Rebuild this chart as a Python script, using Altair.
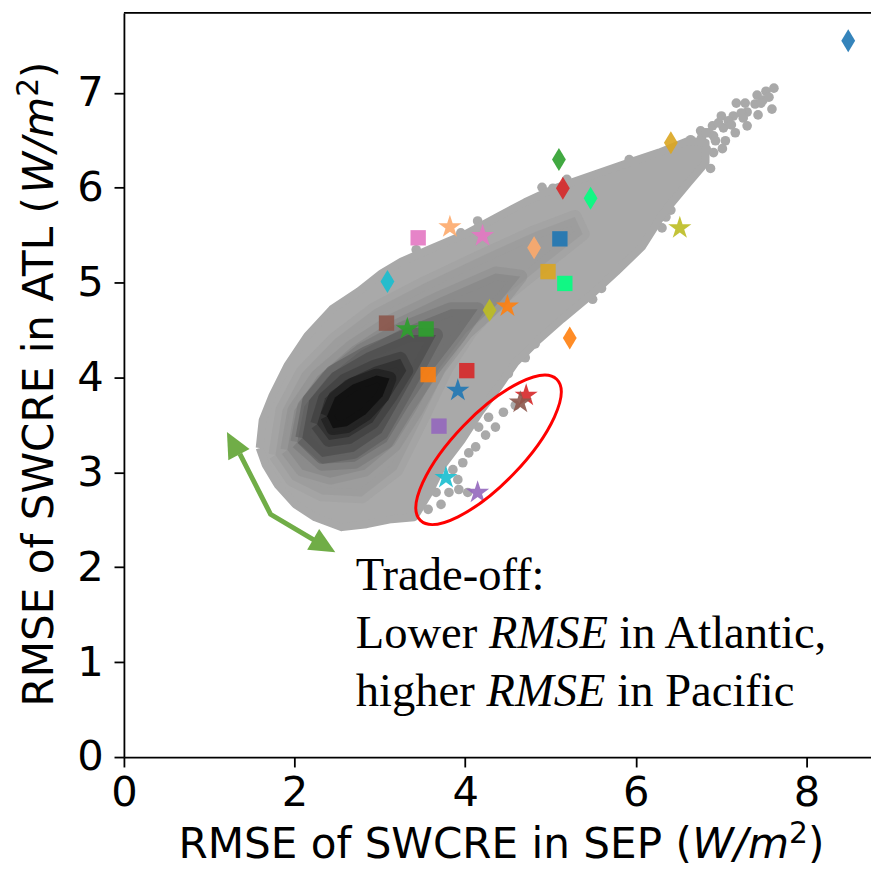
import altair as alt
import pandas as pd

# ---------------- data ----------------
X_TICKS = [0, 2, 4, 6, 8]
Y_TICKS = [0, 1, 2, 3, 4, 5, 6, 7]
X_DOMAIN = [0, 8.757]
Y_DOMAIN = [0, 7.843]

# density cloud: nested contour polygons (outer -> core), data units
L1_X = [1.591, 1.626, 1.742, 1.916, 2.149, 2.439, 2.753, 3.020, 3.252, 3.600, 4.007, 4.355, 4.704, 5.052,
        5.517, 5.923, 6.272, 6.620, 6.818, 6.818, 6.620, 6.330, 6.074, 5.772, 5.482, 5.134, 4.843, 4.588,
        4.379, 4.170, 3.960, 3.740, 3.566, 3.403, 3.136, 2.846, 2.555, 2.242, 2.009, 1.800, 1.661]
L1_Y = [3.258, 3.551, 3.812, 4.125, 4.439, 4.721, 4.909, 5.097, 5.222, 5.358, 5.514, 5.681, 5.849, 5.995,
        6.141, 6.266, 6.371, 6.496, 6.475, 6.266, 6.057, 5.744, 5.379, 5.117, 4.877, 4.616, 4.386, 4.157,
        3.885, 3.634, 3.342, 3.081, 2.768, 2.527, 2.507, 2.454, 2.423, 2.527, 2.663, 2.872, 3.081]
L2_X = [1.777, 1.858, 2.091, 2.474, 2.938, 3.519, 4.181, 4.820, 5.285, 5.377, 4.936, 4.413, 4.065, 3.775,
        3.484, 3.194, 2.787, 2.323, 1.974]
L2_Y = [3.185, 3.655, 4.052, 4.407, 4.721, 4.992, 5.274, 5.535, 5.692, 5.514, 5.201, 4.825, 4.491, 4.094,
        3.551, 3.029, 2.747, 2.768, 2.924]
L3_X = [1.916, 1.998, 2.265, 2.671, 3.136, 3.717, 4.355, 4.646, 4.413, 4.007, 3.693, 3.426, 3.171, 2.822,
        2.416, 2.091]
L3_Y = [3.238, 3.655, 4.010, 4.324, 4.595, 4.846, 5.097, 5.065, 4.804, 4.470, 4.094, 3.655, 3.290, 3.029,
        2.945, 3.029]
L4_X = [2.033, 2.114, 2.381, 2.776, 3.252, 3.833, 4.146, 3.926, 3.612, 3.333, 3.078, 2.706, 2.323]
L4_Y = [3.321, 3.697, 4.000, 4.282, 4.512, 4.721, 4.721, 4.439, 4.073, 3.697, 3.321, 3.112, 3.091]
L5_X = [2.091, 2.172, 2.439, 2.846, 3.333, 3.659, 3.484, 3.252, 3.020, 2.695, 2.323]
L5_Y = [3.363, 3.760, 4.052, 4.261, 4.449, 4.449, 4.157, 3.781, 3.415, 3.217, 3.164]
L6_X = [2.265, 2.358, 2.590, 2.938, 3.240, 3.310, 3.124, 2.915, 2.636, 2.404]
L6_Y = [3.509, 3.781, 3.969, 4.115, 4.198, 4.073, 3.802, 3.530, 3.373, 3.342]
L7_X = [2.381, 2.474, 2.683, 2.962, 3.113, 3.031, 2.834, 2.613, 2.451]
L7_Y = [3.593, 3.791, 3.927, 4.021, 3.990, 3.802, 3.614, 3.488, 3.467]
CLOUD_SHADES = ["#a9a9a9", "#9d9d9d", "#8b8b8b", "#717171", "#535353", "#333333", "#111111"]

# sparse gray points outside the dense cloud
DOT_X = [7.619, 7.422, 7.178, 7.398, 7.596, 7.305, 7.143, 7.003, 7.433, 7.305, 7.027, 6.899, 6.760, 6.911,
         7.166, 7.050, 6.829, 7.015, 6.876, 6.643, 6.655, 6.643, 6.504, 6.411, 6.307, 6.132, 5.923, 5.192,
         4.146, 3.949, 3.426, 4.901, 5.029, 5.598, 5.494, 4.704, 4.588, 4.669, 4.820, 4.390, 4.506, 4.321,
         4.448, 4.588, 4.274, 4.355, 4.158, 4.239, 4.123, 4.042, 3.972, 3.856, 3.914, 3.926, 3.810, 4.030,
         3.659, 3.717, 3.566,
         6.678, 6.771, 6.853, 6.969, 7.085, 7.236, 7.282, 7.491, 7.526, 6.736, 6.911, 6.562, 6.678, 6.539,
         6.446, 6.353, 6.214, 6.040,
         6.818, 6.934, 7.120, 7.259, 7.468, 7.561, 6.736]
DOT_Y = [7.050, 6.977, 6.893, 6.883, 6.830, 6.799, 6.757, 6.757, 6.768, 6.653, 6.632, 6.653, 6.601, 6.548,
         6.580, 6.496, 6.402, 6.413, 6.204, 6.507, 6.339, 6.131, 6.005, 5.765, 5.577, 5.493, 6.298, 6.089,
         5.650, 5.525, 5.347, 6.005, 5.995, 4.940, 4.825, 4.209, 4.178, 4.251, 4.355, 4.073, 4.042, 3.937,
         3.634, 3.708, 3.582, 3.478, 3.478, 3.394, 3.269, 3.206, 3.102, 3.029, 2.924, 2.820, 2.789, 2.789,
         2.789, 2.663, 2.611,
         6.475, 6.527, 6.580, 6.684, 6.705, 6.789, 6.893, 6.924, 7.018, 6.318, 6.371, 6.266, 6.214, 6.110,
         5.901, 5.692, 5.640, 5.431,
         6.580, 6.496, 6.663, 6.736, 6.893, 6.955, 6.444]

# coloured model markers
DIAMOND_X = [8.490, 6.411, 5.099, 5.145, 5.470, 4.808, 3.089, 4.286, 5.226]
DIAMOND_Y = [7.551, 6.475, 6.298, 5.995, 5.890, 5.368, 5.013, 4.710, 4.418]
DIAMOND_C = ["#1f77b4", "#daa520", "#2ca02c", "#d62728", "#00ff7f", "#fdaa6b", "#17becf", "#bcbd22", "#ff7f0e"]

SQUARE_X = [3.449, 5.110, 4.971, 5.168, 3.078, 3.542, 3.566, 4.019, 3.693]
SQUARE_Y = [5.473, 5.462, 5.117, 4.992, 4.574, 4.512, 4.031, 4.073, 3.488]
SQUARE_C = ["#e377c2", "#1f77b4", "#daa520", "#00ff7f", "#8c564b", "#2ca02c", "#ff7f0e", "#d62728", "#9467bd"]

STAR_X = [3.821, 4.204, 6.516, 4.495, 3.322, 3.914, 4.715, 4.646, 3.775, 4.146]
STAR_Y = [5.587, 5.494, 5.577, 4.752, 4.512, 3.864, 3.812, 3.739, 2.945, 2.789]
STAR_C = ["#fdaa6b", "#e377c2", "#bcbd22", "#ff7f0e", "#2ca02c", "#1f77b4", "#d62728", "#8c564b", "#17becf", "#9467bd"]

# ---------------- layout ----------------
W, H = 754, 751
xscale = alt.Scale(domain=X_DOMAIN, nice=False, zero=False)
yscale = alt.Scale(domain=Y_DOMAIN, nice=False, zero=False)
axis_common = dict(labelFont="DejaVu Sans", labelFontSize=42, labelColor="black", tickSize=10,
                   tickWidth=1.8, tickColor="black", domainWidth=1.8, domainColor="black",
                   grid=False, title=None, labelFlush=False, labelOverlap=False, format="d")
xaxis = alt.Axis(values=X_TICKS, labelPadding=6, **axis_common)
yaxis = alt.Axis(values=Y_TICKS, labelPadding=11, **axis_common)
X = alt.X("x:Q", scale=xscale, axis=xaxis)
Y = alt.Y("y:Q", scale=yscale, axis=yaxis)

dummy = pd.DataFrame({"k": [0]})
layers = []

# gray cloud
dots = pd.DataFrame({"x": DOT_X, "y": DOT_Y})
layers.append(alt.Chart(dots).mark_circle(size=95, color="#a9a9a9", opacity=1).encode(x=X, y=Y))

for n, (xs, ys, shade) in enumerate(zip([L1_X, L2_X, L3_X, L4_X, L5_X, L6_X, L7_X],
                                        [L1_Y, L2_Y, L3_Y, L4_Y, L5_Y, L6_Y, L7_Y], CLOUD_SHADES)):
    df = pd.DataFrame({"x": xs + [xs[0]], "y": ys + [ys[0]], "i": list(range(len(xs) + 1))})
    if n == 0:
        mk = alt.Chart(df).mark_line(fill=shade, stroke=shade, strokeWidth=8, strokeJoin="round")
    else:
        mk = alt.Chart(df).mark_line(fill=shade, stroke=shade, strokeWidth=14, strokeOpacity=0.45,
                                     strokeJoin="round")
    layers.append(mk.encode(x=X, y=Y, order=alt.Order("i:Q")))

DIAMOND_PATH = "M0,-1L0.6,0L0,1L-0.6,0Z"
STAR_PATH = ("M0,-1L0.2245,-0.309L0.951,-0.309L0.363,0.118L0.588,0.809L0,0.382L-0.588,0.809"
             "L-0.363,0.118L-0.951,-0.309L-0.2245,-0.309Z")
for xs, ys, cs, shape, size in [(DIAMOND_X, DIAMOND_Y, DIAMOND_C, DIAMOND_PATH, 540),
                                (SQUARE_X, SQUARE_Y, SQUARE_C, "square", 240),
                                (STAR_X, STAR_Y, STAR_C, STAR_PATH, 600)]:
    df = pd.DataFrame({"x": xs, "y": ys, "c": cs})
    layers.append(alt.Chart(df).mark_point(shape=shape, size=size, filled=True, opacity=0.9, strokeWidth=0)
                  .encode(x=X, y=Y, color=alt.Color("c:N", scale=None)))

# red ellipse annotation
ELLIPSE_PATH = ("M-1,0C-1,-0.1955,-0.5523,-0.354,0,-0.354C0.5523,-0.354,1,-0.1955,1,0"
                "C1,0.1955,0.5523,0.354,0,0.354C-0.5523,0.354,-1,0.1955,-1,0Z")
layers.append(alt.Chart(dummy).mark_point(shape=ELLIPSE_PATH, size=39204, angle=314, filled=False,
                                          stroke="#ff0000", strokeWidth=3, opacity=1)
              .encode(x=alt.datum(4.274), y=alt.datum(3.238)))

# green double arrow
arrow = pd.DataFrame({"ax": [1.359, 1.719, 2.230], "ay": [3.196, 2.559, 2.287], "i": [0, 1, 2]})
layers.append(alt.Chart(arrow).mark_line(color="#70ad47", strokeWidth=5, strokeJoin="miter")
              .encode(x=alt.X("ax:Q", scale=xscale, axis=xaxis), y=alt.Y("ay:Q", scale=yscale, axis=yaxis),
                      order=alt.Order("i:Q")))
TRI_PATH = "M0,-1L0.94,1L-0.94,1Z"
layers.append(alt.Chart(dummy).mark_point(shape=TRI_PATH, size=666, angle=332, filled=True,
                                          color="#70ad47", opacity=1, strokeWidth=0)
              .encode(x=alt.datum(1.278), y=alt.datum(3.307)))
layers.append(alt.Chart(dummy).mark_point(shape=TRI_PATH, size=666, angle=120, filled=True,
                                          color="#70ad47", opacity=1, strokeWidth=0)
              .encode(x=alt.datum(2.348), y=alt.datum(2.227)))


def txt(s, px, py, font="Liberation Serif", size=47, style="normal", angle=0):
    return alt.Chart(dummy).mark_text(text=s, font=font, fontSize=size, fontStyle=style, angle=angle,
                                      align="left", baseline="alphabetic", color="black") \
        .encode(x=alt.value(px), y=alt.value(py))


# annotation text
layers += [
    txt("Trade-off:", 234, 582),
    txt("Lower", 234, 641), txt("RMSE", 368.5, 641, style="italic"), txt("in Atlantic,", 500, 641),
    txt("higher", 234, 699), txt("RMSE", 366, 699, style="italic"), txt("in Pacific", 498, 699),
]

# axis titles (mixed styles)
TF = "DejaVu Sans"
layers += [
    txt("RMSE of SWCRE in SEP (", 55, 853, font=TF, size=42.5),
    txt("W/m", 573.5, 853, font=TF, size=42.5, style="italic"),
    txt("2", 671.3, 838, font=TF, size=30),
    txt(")", 690.3, 853, font=TF, size=42.5),
    txt("RMSE of SWCRE in ATL (", -72, 700, font=TF, size=42.5, angle=270),
    txt("W/m", -72, 182.3, font=TF, size=42.5, style="italic", angle=270),
    txt("2", -87, 84.6, font=TF, size=30, angle=270),
    txt(")", -72, 65.6, font=TF, size=42.5, angle=270),
]

# top spine
layers.append(alt.Chart(dummy).mark_rule(color="black", strokeWidth=1.8)
              .encode(x=alt.value(0), x2=alt.value(W), y=alt.value(0)))

chart = alt.layer(*layers).properties(
    width=W, height=H, autosize="none",
    padding={"left": 117, "top": 1, "right": 0, "bottom": 112},
).configure_view(strokeWidth=0).configure(background="white")

chart.save("out.html", embed_options={"renderer": "svg", "actions": False})
